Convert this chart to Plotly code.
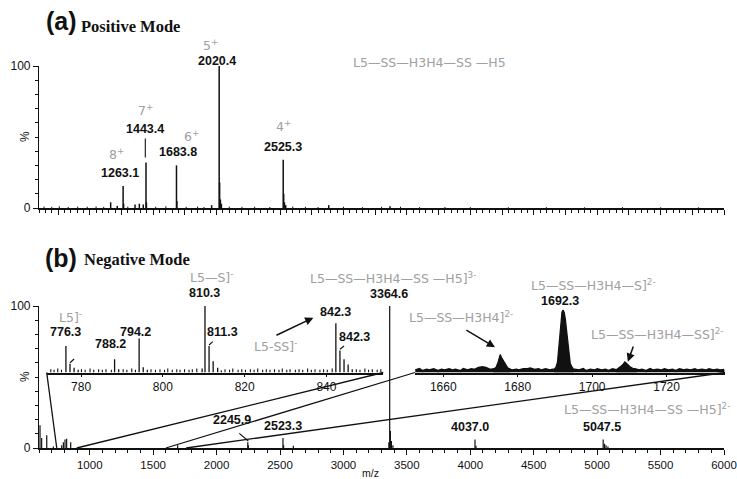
import plotly.graph_objects as go

W, H = 737, 479

# ---------------- data (m/z, relative intensity %) ----------------
# (a) positive mode, full scan
pos_mz = [1263.1, 1443.4, 1683.8, 2020.4, 2525.3,
          2024.0, 2030.0, 2038.0, 2529.0, 2535.0, 2545.0, 1447.0, 1687.0, 1267.0,
          1165.0, 1217.0, 1357.0, 1391.0, 1422.0, 1961.0, 2884.0, 3367.0]
pos_int = [15.5, 32.0, 30.0, 100.0, 34.0,
           18.0, 6.0, 3.0, 10.0, 4.0, 2.0, 4.0, 5.0, 3.0,
           4.0, 1.5, 2.5, 3.0, 2.5, 2.0, 2.0, 1.2]
pos_noise_mz = [640, 700, 760, 830, 905, 980, 1050, 1110, 1300, 1520, 1600, 1760, 1850,
                1900, 2100, 2200, 2300, 2420, 2600, 2700, 2800, 3000, 3150, 3300, 3450,
                3600, 3800, 4000, 4300, 4600, 4900, 5200, 5500, 5800]
pos_noise_int = [1.0, 0.8, 1.2, 0.7, 1.0, 0.9, 1.1, 0.8, 1.0, 0.9, 1.2, 0.8, 1.0,
                 0.7, 1.0, 0.8, 0.9, 0.7, 1.0, 0.8, 0.7, 0.9, 0.6, 0.8, 0.9,
                 0.6, 0.7, 0.6, 0.5, 0.6, 0.5, 0.6, 0.5, 0.5]

# (b) negative mode, full scan
neg_mz = [608, 621, 661, 713, 779, 792, 805, 818, 850, 1693, 2245.9, 2250, 2523.3, 2528, 2605,
          3364.6, 3358, 3370, 3378, 3390, 4037.0, 4045, 5047.5, 5058, 5070, 5085]
neg_int = [16.0, 7.0, 9.0, 1.0, 2.0, 4.0, 6.0, 6.5, 4.0, 2.0, 4.0, 2.0, 7.0, 2.0, 1.5,
           100.0, 4.0, 12.0, 5.0, 2.0, 6.0, 1.5, 6.0, 3.0, 2.0, 1.0]

# (b) inset 1: m/z 772-854
ins1_mz = [776.3, 777.3, 778.3, 779.3, 788.2, 789.2, 794.2, 795.2, 796.2,
           809.6, 810.3, 811.3, 812.3, 813.4, 814.3,
           842.3, 843.3, 844.3, 845.3, 846.3]
ins1_int = [40, 13, 7, 4, 20, 5, 51, 8, 4,
            6, 100, 40, 17, 7, 3,
            74, 33, 20, 12, 5]
ins1_noise_mz = [772.6, 773.4, 774.3, 775.2, 780.1, 781.0, 782.2, 783.1, 784.3, 785.2, 786.1,
                 787.4, 790.3, 791.2, 792.4, 793.3, 797.1, 798.2, 799.3, 800.4, 801.2, 802.3,
                 803.4, 804.2, 805.3, 806.4, 807.2, 808.3, 815.2, 816.3, 817.1, 818.4, 819.3,
                 820.2, 821.4, 822.3, 823.2, 824.4, 825.3, 826.2, 827.3, 828.4, 829.2, 830.3,
                 831.1, 832.4, 833.3, 834.2, 835.4, 836.3, 837.2, 838.4, 839.3, 840.2, 841.4,
                 847.3, 848.2, 849.4, 850.3, 851.2, 852.4, 853.3]
ins1_noise_int = [5, 4, 6, 4, 5, 4, 6, 4, 5, 4, 5,
                  4, 5, 4, 6, 4, 5, 4, 5, 4, 6, 4,
                  5, 4, 5, 4, 5, 6, 5, 4, 6, 4, 5,
                  4, 5, 4, 6, 4, 5, 4, 5, 4, 6, 4,
                  5, 4, 5, 4, 6, 4, 5, 4, 5, 4, 6,
                  5, 4, 6, 4, 5, 4, 5]

# (b) inset 2: m/z 1652-1736 (profile data)
ins2_base_mz = [1652.5, 1653.6, 1654.4, 1655.5, 1656.3, 1657.4, 1658.6, 1659.5, 1660.4, 1661.6,
                1662.5, 1663.3, 1664.6, 1665.4, 1666.5, 1667.6, 1668.4, 1669.5, 1670.5, 1671.4,
                1672.6, 1673.5, 1674.4, 1675.5, 1676.6, 1677.4, 1678.5, 1679.6, 1680.4, 1681.5,
                1682.6, 1683.4, 1684.5, 1685.6, 1686.4, 1687.5, 1688.6, 1689.4, 1690.5, 1691.6,
                1692.4, 1693.5, 1694.6, 1695.4, 1696.5, 1697.6, 1698.4, 1699.5, 1700.6, 1701.4,
                1702.5, 1703.6, 1704.4, 1705.5, 1706.6, 1707.4, 1708.5, 1709.6, 1710.4, 1711.5,
                1712.6, 1713.4, 1714.5, 1715.6, 1716.4, 1717.5, 1718.6, 1719.4, 1720.5, 1721.6,
                1722.4, 1723.5, 1724.6, 1725.4, 1726.5, 1727.6, 1728.4, 1729.5, 1730.6, 1731.4,
                1732.5, 1733.6, 1734.4, 1735.5]
ins2_base_int = [3, 5, 2, 4, 3, 5, 2, 4, 3, 5,
                 3, 4, 2, 5, 3, 5, 4, 7, 8, 7,
                 4, 5, 3, 5, 3, 5, 3, 4, 3, 5,
                 5, 6, 4, 5, 3, 5, 3, 4, 3, 5,
                 3, 5, 3, 4, 3, 5, 2, 4, 3, 5,
                 3, 4, 2, 5, 3, 5, 4, 6, 4, 5,
                 3, 4, 2, 5, 3, 4, 3, 5, 3, 4,
                 2, 5, 3, 4, 3, 5, 3, 4, 3, 5,
                 3, 4, 3, 4]
peakA_mz = [1673.5, 1674.2, 1674.7, 1675.0, 1675.3, 1675.6, 1676.0, 1676.4, 1676.8, 1677.3, 1678.0]
peakA_int = [5, 8, 15, 22, 27, 23, 19, 14, 10, 7, 5]
peakB_mz = [1689.8, 1690.3, 1690.7, 1691.0, 1691.3, 1691.6, 1691.9, 1692.2, 1692.5, 1692.8,
            1693.1, 1693.4, 1693.7, 1694.1, 1694.6, 1695.0]
peakB_int = [5, 8, 16, 35, 62, 82, 91, 94, 90, 80, 64, 44, 27, 14, 8, 5]
peakC_mz = [1706.5, 1707.3, 1707.9, 1708.4, 1708.8, 1709.2, 1709.7, 1710.3, 1711.0, 1712.0]
peakC_int = [4, 7, 10, 13, 16, 14, 11, 8, 6, 4]

# zoom connector: inset ranges and where they meet the full-scan axis
ins1_range = [771.6, 853.9]
ins2_range = [1652.4, 1735.7]
conn_main_mz = [740, 897, 1600, 1760]

MZ_RANGE = [600, 6000]
PCT_RANGE = [0, 100]
ins1_ticks = [780, 800, 820, 840]
ins2_ticks = [1660, 1680, 1700, 1720]


# ---------------- helpers ----------------
def px(xpix):
    return xpix / W


def py(ypix):
    return 1 - ypix / H


def sticks(mz, inten):
    xs, ys = [], []
    for m, h in zip(mz, inten):
        xs += [m, m, None]
        ys += [0, h, None]
    return xs, ys


BLACK = "#111111"
GRAY = "#a0a0a0"
NUMF = dict(family="Liberation Sans, Arial, sans-serif", size=12.5, color=BLACK)
GRAYF = dict(family="DejaVu Sans, Verdana, sans-serif", size=12.5, color=GRAY)

X_DOM = [px(39), px(724)]
YA_DOM = [py(208), py(66)]
YB_DOM = [py(448), py(306)]
X3_DOM = [px(46.7), px(383.3)]
X4_DOM = [px(415), px(725)]
YI_DOM = [py(372.5), py(306)]

AXX = {"x": (X_DOM, MZ_RANGE), "x2": (X_DOM, MZ_RANGE),
       "x3": (X3_DOM, ins1_range), "x4": (X4_DOM, ins2_range)}
AXY = {"y": (YA_DOM, PCT_RANGE), "y2": (YB_DOM, PCT_RANGE),
       "y3": (YI_DOM, PCT_RANGE), "y4": (YI_DOM, PCT_RANGE)}


def to_paper(v, dom, rng):
    return dom[0] + (v - rng[0]) / (rng[1] - rng[0]) * (dom[1] - dom[0])


fig = go.Figure()

# sticks
for (mz, it, xa, ya, w) in [
    (pos_mz, pos_int, "x", "y", 1.5),
    (pos_noise_mz, pos_noise_int, "x", "y", 1.0),
    (neg_mz, neg_int, "x2", "y2", 1.2),
    (ins1_mz, ins1_int, "x3", "y3", 1.3),
    (ins1_noise_mz, ins1_noise_int, "x3", "y3", 1.1),
]:
    xs, ys = sticks(mz, it)
    fig.add_trace(go.Scatter(x=xs, y=ys, mode="lines", xaxis=xa, yaxis=ya,
                             line=dict(color=BLACK, width=w), hoverinfo="skip",
                             showlegend=False))

# inset 2 profile
fig.add_trace(go.Scatter(x=ins2_base_mz, y=ins2_base_int, mode="lines", xaxis="x4", yaxis="y4",
                         line=dict(color=BLACK, width=2.4), fill="tozeroy",
                         fillcolor=BLACK, showlegend=False, hoverinfo="skip"))
for mz, it in [(peakA_mz, peakA_int), (peakB_mz, peakB_int), (peakC_mz, peakC_int)]:
    fig.add_trace(go.Scatter(x=mz, y=it, mode="lines", xaxis="x4", yaxis="y4",
                             line=dict(color=BLACK, width=1.3), fill="tozeroy",
                             fillcolor=BLACK, showlegend=False, hoverinfo="skip"))

ann = []


def label(text, x, y, xr, yr, font):
    ann.append(dict(text=text, x=to_paper(x, *AXX[xr]), y=to_paper(y, *AXY[yr]),
                    xref="paper", yref="paper", showarrow=False, font=font,
                    xanchor="center", yanchor="middle"))


def BOLD(s):
    return "<b>" + s + "</b>"


# panel (a) labels
label(BOLD("2020.4"), 2001, 103.4, "x", "y", NUMF)
label("5<sup>+</sup>", 1950, 115, "x", "y", GRAYF)
label(BOLD("1443.4"), 1438, 55.6, "x", "y", NUMF)
label("7<sup>+</sup>", 1442, 69, "x", "y", GRAYF)
label(BOLD("1263.1"), 1241, 25, "x", "y", NUMF)
label("8<sup>+</sup>", 1213, 38, "x", "y", GRAYF)
label(BOLD("1683.8"), 1692, 39.7, "x", "y", NUMF)
label("6<sup>+</sup>", 1804, 51, "x", "y", GRAYF)
label(BOLD("2525.3"), 2527, 43, "x", "y", NUMF)
label("4<sup>+</sup>", 2527, 58, "x", "y", GRAYF)
label("L5—SS—H3H4—SS —H5", 3682, 102.8, "x", "y", GRAYF)

# panel (b) main labels
label(BOLD("3364.6"), 3359, 108.5, "x2", "y2", NUMF)
label("L5—SS—H3H4—SS —H5]<sup>3-</sup>", 3391, 119.5, "x2", "y2", GRAYF)
label(BOLD("2245.9"), 2125, 20, "x2", "y2", NUMF)
label(BOLD("2523.3"), 2526, 15.8, "x2", "y2", NUMF)
label(BOLD("4037.0"), 3998, 15, "x2", "y2", NUMF)
label(BOLD("5047.5"), 5042, 15, "x2", "y2", NUMF)
label("L5—SS—H3H4—SS —H5]<sup>2-</sup>", 5394, 27.8, "x2", "y2", GRAYF)

# inset 1 labels
label("L5]<sup>-</sup>", 777.5, 83, "x3", "y3", GRAYF)
label(BOLD("776.3"), 776.3, 60.9, "x3", "y3", NUMF)
label(BOLD("788.2"), 787.3, 42.9, "x3", "y3", NUMF)
label(BOLD("794.2"), 793.2, 60.9, "x3", "y3", NUMF)
label("L5—S]<sup>-</sup>", 812, 143.5, "x3", "y3", GRAYF)
label(BOLD("810.3"), 810.2, 119.8, "x3", "y3", NUMF)
label(BOLD("811.3"), 814.6, 60.9, "x3", "y3", NUMF)
label(BOLD("842.3"), 842.2, 90.5, "x3", "y3", NUMF)
label(BOLD("842.3"), 846.8, 53, "x3", "y3", NUMF)
label("L5-SS]<sup>-</sup>", 827.6, 40.5, "x3", "y3", GRAYF)

# inset 2 labels
label("L5—SS—H3H4]<sup>2-</sup>", 1664.7, 84, "x4", "y4", GRAYF)
label(BOLD("1692.3"), 1691.3, 107.8, "x4", "y4", NUMF)
label("L5—SS—H3H4—S]<sup>2-</sup>", 1700.3, 131.5, "x4", "y4", GRAYF)
label("L5—SS—H3H4—SS]<sup>2-</sup>", 1717.3, 57.5, "x4", "y4", GRAYF)

# arrows
for (x0, y0, x1, y1, xr, yr) in [
    (827.4, 54.9, 836.8, 82.4, "x3", "y3"),
    (1665.8, 65, 1673.9, 38, "x4", "y4"),
    (1711.2, 41.4, 1709.6, 16.2, "x4", "y4"),
]:
    ann.append(dict(text="", x=x1, y=y1, ax=x0, ay=y0, xref=xr, yref=yr, axref=xr, ayref=yr,
                    showarrow=True, arrowhead=2, arrowsize=1.1, arrowwidth=1.5,
                    arrowcolor=BLACK))

# titles
ann.append(dict(text="<b>(a)</b>", x=px(61), y=py(21.5), xref="paper", yref="paper",
                showarrow=False, xanchor="center", yanchor="middle",
                font=dict(family="Liberation Sans, Arial", size=25, color=BLACK)))
ann.append(dict(text="<b>Positive Mode</b>", x=px(79), y=py(26), xref="paper", yref="paper",
                showarrow=False, xanchor="left", yanchor="middle",
                font=dict(family="Liberation Serif, Times New Roman", size=16.5, color=BLACK)))
ann.append(dict(text="<b>(b)</b>", x=px(61), y=py(258), xref="paper", yref="paper",
                showarrow=False, xanchor="center", yanchor="middle",
                font=dict(family="Liberation Sans, Arial", size=25, color=BLACK)))
ann.append(dict(text="<b>Negative Mode</b>", x=px(82), y=py(259), xref="paper", yref="paper",
                showarrow=False, xanchor="left", yanchor="middle",
                font=dict(family="Liberation Serif, Times New Roman", size=16.5, color=BLACK)))
for yy in [137, 377]:
    ann.append(dict(text="%", x=px(25), y=py(yy), xref="paper", yref="paper",
                    showarrow=False, textangle=-90, xanchor="center", yanchor="middle",
                    font=dict(family="Liberation Sans, Arial", size=12, color=BLACK)))
ann.append(dict(text="m/z", x=px(370), y=py(472.5), xref="paper", yref="paper",
                showarrow=False, xanchor="center", yanchor="middle",
                font=dict(family="Liberation Sans, Arial", size=10.5, color=BLACK)))

# leader lines (data coords)
shapes = []
for (x0, y0, x1, y1, xr, yr) in [
    (1438, 35.5, 1438, 49, "x", "y"),
    (777.3, 14.7, 778.3, 20.3, "x3", "y3"),
    (811.3, 41.4, 812.2, 46.3, "x3", "y3"),
    (843.3, 34.9, 844.3, 39.8, "x3", "y3"),
    (2179, 10.3, 2250, 4.9, "x2", "y2"),
]:
    shapes.append(dict(type="line", x0=x0, y0=y0, x1=x1, y1=y1, xref=xr, yref=yr,
                       line=dict(color=BLACK, width=1.1)))

# zoom connector lines (paper coords derived from axis domains/ranges)
corners = [X3_DOM[0], X3_DOM[1], X4_DOM[0], X4_DOM[1]]
for cx, v in zip(corners, conn_main_mz):
    shapes.append(dict(type="line", xref="paper", yref="paper", x0=cx, y0=YI_DOM[0],
                       x1=to_paper(v, X_DOM, MZ_RANGE), y1=YB_DOM[0],
                       line=dict(color=BLACK, width=1.3)))

tickfont = dict(family="Liberation Sans, Arial", size=12, color=BLACK)
base_x = dict(range=MZ_RANGE, showline=True, linecolor=BLACK, linewidth=1.6, ticks="outside",
              tickcolor=BLACK, tickwidth=1, showgrid=False, zeroline=False, tickfont=tickfont,
              automargin=False)
base_y = dict(range=PCT_RANGE, showline=True, linecolor=BLACK, linewidth=1.2, ticks="outside",
              tickcolor=BLACK, ticklen=5, tick0=0, dtick=100, showgrid=False, zeroline=False,
              tickfont=tickfont, automargin=False,
              minor=dict(dtick=10, ticklen=3, ticks="outside", tickcolor=BLACK))
inset_x = dict(showline=True, linecolor=BLACK, linewidth=2, ticks="outside", ticklen=2,
               tickcolor=BLACK, showgrid=False, zeroline=False, tickfont=tickfont,
               automargin=False)

fig.update_layout(
    template="none",
    width=W, height=H, margin=dict(l=0, r=0, t=0, b=0, pad=0), autosize=False,
    paper_bgcolor="white", plot_bgcolor="rgba(0,0,0,0)",
    xaxis=dict(base_x, domain=X_DOM, anchor="y", tick0=0, dtick=250, ticklen=5,
               showticklabels=False,
               minor=dict(dtick=50, ticklen=3, ticks="outside", tickcolor=BLACK)),
    yaxis=dict(base_y, domain=YA_DOM, anchor="x"),
    xaxis2=dict(base_x, domain=X_DOM, anchor="y2", tick0=0, dtick=500, ticklen=5,
                tickfont=dict(tickfont, size=11.5),
                minor=dict(dtick=100, ticklen=3, ticks="outside", tickcolor=BLACK)),
    yaxis2=dict(base_y, domain=YB_DOM, anchor="x2"),
    xaxis3=dict(inset_x, domain=X3_DOM, range=ins1_range, anchor="y3", tickvals=ins1_ticks),
    yaxis3=dict(domain=YI_DOM, range=PCT_RANGE, anchor="x3", visible=False),
    xaxis4=dict(inset_x, domain=X4_DOM, range=ins2_range, anchor="y4", tickvals=ins2_ticks),
    yaxis4=dict(domain=YI_DOM, range=PCT_RANGE, anchor="x4", visible=False),
    annotations=ann,
    shapes=shapes,
)

fig.write_html("out.html")
